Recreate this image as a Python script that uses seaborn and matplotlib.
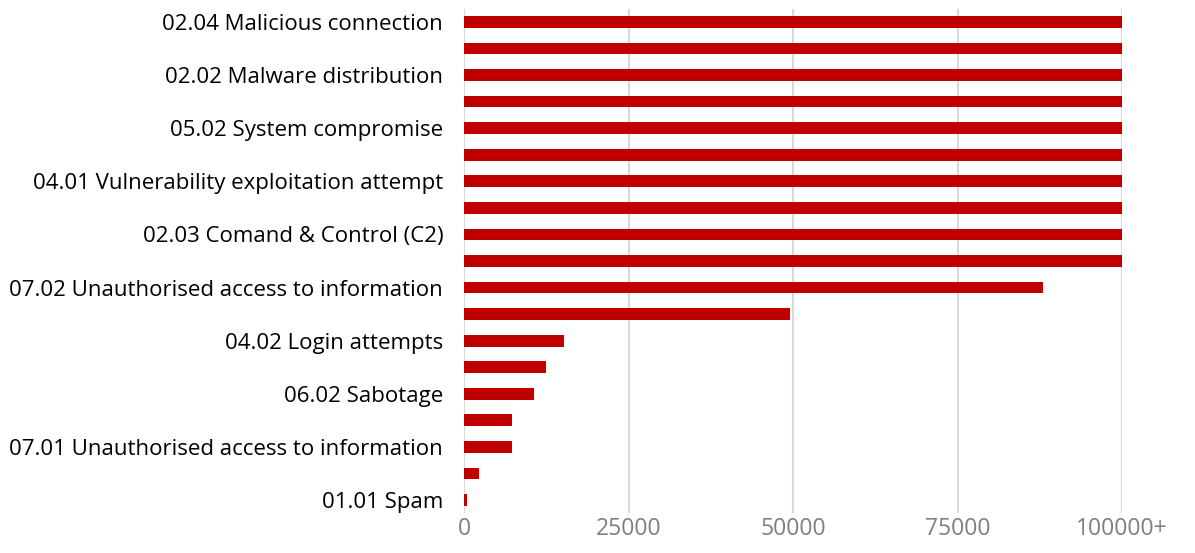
import matplotlib
matplotlib.use("Agg")
import matplotlib.pyplot as plt
import seaborn as sns
import pandas as pd

# Incident categories, top to bottom; only every other bar carries a label
labels = [
    "02.04 Malicious connection", "",
    "02.02 Malware distribution", "",
    "05.02 System compromise", "",
    "04.01 Vulnerability exploitation attempt", "",
    "02.03 Comand & Control (C2)", "",
    "07.02 Unauthorised access to information", "",
    "04.02 Login attempts", "",
    "06.02 Sabotage", "",
    "07.01 Unauthorised access to information", "",
    "01.01 Spam",
]
# Incident counts (capped at 100000)
counts = [100000, 100000, 100000, 100000, 100000, 100000, 100000, 100000,
          100000, 100000, 88000, 49500, 15200, 12400, 10600, 7350, 7350,
          2300, 500]
x_ticks = [0, 25000, 50000, 75000, 100000]
x_tick_labels = ["0", "25000", "50000", "75000", "100000+"]

df = pd.DataFrame({"slot": [f"c{i}" for i in range(len(counts))],
                   "count": counts})

sns.set_theme(style="white")
plt.rcParams["font.family"] = ["Open Sans", "DejaVu Sans"]

fig = plt.figure(figsize=(11.95, 5.53), dpi=100)
ax = fig.add_axes([0.3883, 0.0718, 0.5507, 0.9125])

sns.barplot(data=df, x="count", y="slot", orient="h", color="#C00000",
            saturation=1, width=0.44, linewidth=0, ax=ax, zorder=3)

ax.set_xlim(0, 100000)
ax.set_ylim(len(counts) - 0.5, -0.5)
ax.set_xticks(x_ticks)
ax.set_xticklabels(x_tick_labels, color="#7f7f7f", fontsize=16.5)
ax.set_yticks(range(len(labels)))
ax.set_yticklabels(labels, color="#000000", fontsize=16)
ax.tick_params(axis="y", length=0, pad=15)
ax.tick_params(axis="x", length=0, pad=3)
ax.set_xlabel("")
ax.set_ylabel("")

ax.grid(axis="x", color="#d9d9d9", linewidth=1.5, zorder=0)
ax.grid(axis="y", visible=False)
for side in ["top", "right", "bottom", "left"]:
    ax.spines[side].set_visible(False)

fig.savefig("out.png", dpi=100, facecolor="white")
